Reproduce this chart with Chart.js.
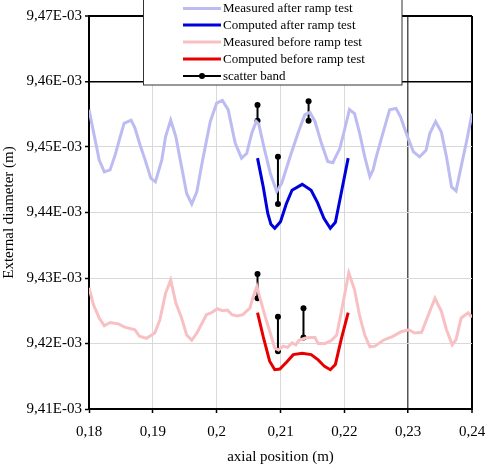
<html>
  <head>
    <script src="https://cdn.jsdelivr.net/npm/chart.js@4.4.0/dist/chart.umd.min.js"></script>
    <style>
      body { margin: 0; background: #fff; }
    </style>
  </head>
  <body>
    <canvas id="diamChart" width="486" height="466"></canvas>
    <script>
      // diameters are stored in units of 1E-03 m, the axis labels add the E-03
      const measAfterX = [0.1800, 0.1816, 0.1824, 0.1833, 0.1841, 0.1849, 0.1855, 0.1866, 0.1872, 0.1880,
        0.1887, 0.1897, 0.1904, 0.1914, 0.1920, 0.1928, 0.1936, 0.1943, 0.1953, 0.1961,
        0.1969, 0.1977, 0.1990, 0.2000, 0.2009, 0.2018, 0.2029, 0.2039, 0.2047, 0.2055,
        0.2062, 0.2066, 0.2074, 0.2084, 0.2094, 0.2102, 0.2115, 0.2128, 0.2138, 0.2146,
        0.2154, 0.2164, 0.2174, 0.2182, 0.2193, 0.2201, 0.2208, 0.2216, 0.2224, 0.2232,
        0.2240, 0.2245, 0.2250, 0.2261, 0.2271, 0.2281, 0.2288, 0.2297, 0.2308, 0.2318,
        0.2328, 0.2334, 0.2343, 0.2352, 0.2360, 0.2368, 0.2375, 0.2383, 0.2392, 0.2400];
      const measAfterY = [9.4557, 9.4480, 9.4462, 9.4465, 9.4488, 9.4516, 9.4536, 9.4541, 9.4529, 9.4503,
        9.4483, 9.4452, 9.4447, 9.4480, 9.4516, 9.4541, 9.4516, 9.4480, 9.4429, 9.4413,
        9.4432, 9.4475, 9.4539, 9.4567, 9.4571, 9.4557, 9.4506, 9.4483, 9.4490, 9.4521,
        9.4539, 9.4535, 9.4500, 9.4460, 9.4432, 9.4445, 9.4485, 9.4523, 9.4549, 9.4553,
        9.4539, 9.4506, 9.4478, 9.4476, 9.4498, 9.4529, 9.4557, 9.4551, 9.4521, 9.4485,
        9.4455, 9.4465, 9.4485, 9.4523, 9.4557, 9.4559, 9.4546, 9.4521, 9.4493, 9.4485,
        9.4495, 9.4521, 9.4539, 9.4523, 9.4485, 9.4439, 9.4433, 9.4470, 9.4511, 9.4551];

      const compAfterX = [0.2064, 0.2073, 0.2080, 0.2085, 0.2091, 0.2100, 0.2109, 0.2118, 0.2134, 0.2148,
        0.2158, 0.2168, 0.2178, 0.2186, 0.2195, 0.2206];
      const compAfterY = [9.4483, 9.4439, 9.4399, 9.4382, 9.4376, 9.4386, 9.4413, 9.4434, 9.4443, 9.4434,
        9.4415, 9.4391, 9.4376, 9.4385, 9.4429, 9.4483];

      const measBeforeX = [0.1800, 0.1807, 0.1816, 0.1824, 0.1833, 0.1846, 0.1856, 0.1872, 0.1879, 0.1890,
        0.1903, 0.1911, 0.1920, 0.1928, 0.1936, 0.1945, 0.1953, 0.1961, 0.1969, 0.1977,
        0.1984, 0.1992, 0.2001, 0.2009, 0.2017, 0.2024, 0.2032, 0.2041, 0.2052, 0.2057,
        0.2063, 0.2068, 0.2076, 0.2084, 0.2091, 0.2097, 0.2104, 0.2111, 0.2118, 0.2124,
        0.2129, 0.2138, 0.2146, 0.2154, 0.2159, 0.2170, 0.2180, 0.2188, 0.2195, 0.2207,
        0.2216, 0.2224, 0.2232, 0.2240, 0.2248, 0.2261, 0.2276, 0.2289, 0.2301, 0.2310,
        0.2321, 0.2331, 0.2342, 0.2352, 0.2360, 0.2369, 0.2375, 0.2383, 0.2394, 0.2400];
      const measBeforeY = [9.4285, 9.4259, 9.4239, 9.4227, 9.4232, 9.4230, 9.4225, 9.4221, 9.4211, 9.4208,
        9.4216, 9.4236, 9.4277, 9.4297, 9.4262, 9.4239, 9.4213, 9.4205, 9.4216, 9.4231,
        9.4244, 9.4247, 9.4253, 9.4250, 9.4251, 9.4244, 9.4242, 9.4244, 9.4254, 9.4271,
        9.4287, 9.4269, 9.4241, 9.4216, 9.4193, 9.4190, 9.4196, 9.4194, 9.4201, 9.4198,
        9.4205, 9.4208, 9.4209, 9.4209, 9.4200, 9.4200, 9.4205, 9.4213, 9.4247, 9.4308,
        9.4282, 9.4242, 9.4213, 9.4195, 9.4196, 9.4205, 9.4211, 9.4218, 9.4221, 9.4216,
        9.4217, 9.4242, 9.4269, 9.4249, 9.4221, 9.4198, 9.4206, 9.4239, 9.4247, 9.4240];

      const compBeforeX = [0.2064, 0.2073, 0.2083, 0.2091, 0.2099, 0.2109, 0.2120, 0.2134, 0.2148, 0.2159,
        0.2169, 0.2178, 0.2186, 0.2195, 0.2206];
      const compBeforeY = [9.4247, 9.4210, 9.4173, 9.4160, 9.4161, 9.4171, 9.4183, 9.4185, 9.4183, 9.4175,
        9.4165, 9.4160, 9.4168, 9.4206, 9.4247];

      const bandX = [0.2064, 0.2096, 0.2144, 0.2064, 0.2096, 0.2136];
      const bandLow = [9.4540, 9.4413, 9.4540, 9.4269, 9.4188, 9.4209];
      const bandHigh = [9.4564, 9.4485, 9.4570, 9.4306, 9.4241, 9.4254];

      const seriesNames = ['Measured after ramp test', 'Computed after ramp test',
        'Measured before ramp test', 'Computed before ramp test', 'scatter band'];
      const seriesColors = ['#bcbcf2', '#0000dc', '#f9c0c4', '#e80000', '#000000'];

      function toPoints(xs, ys) {
        return xs.map(function(x, i) { return { x: x, y: ys[i] }; });
      }

      // one dataset for all bands, gaps between the segments
      let bandPoints = [];
      bandX.forEach(function(x, i) {
        bandPoints.push({ x: x, y: bandLow[i] });
        bandPoints.push({ x: x, y: bandHigh[i] });
        bandPoints.push({ x: x, y: null });
      });

      function near(a, b) { return Math.abs(a - b) < 1e-7; }

      const serif = "'Liberation Serif', 'DejaVu Serif', serif";

      const boxLegend = {
        id: 'boxLegend',
        afterDraw: function(chart) {
          const c = chart.ctx;
          c.save();
          c.fillStyle = '#fff';
          c.fillRect(143.5, -1, 258.5, 86);
          c.strokeStyle = '#333';
          c.lineWidth = 1;
          c.strokeRect(143.5, -1, 258.5, 86);
          c.font = '13px ' + serif;
          c.textBaseline = 'middle';
          const rows = [8.5, 25, 42, 59, 76];
          seriesNames.forEach(function(name, i) {
            const y = rows[i];
            c.strokeStyle = seriesColors[i];
            c.lineWidth = i === 4 ? 2 : 3;
            c.beginPath();
            c.moveTo(183, y);
            c.lineTo(221, y);
            c.stroke();
            if (i === 4) {
              c.fillStyle = '#000';
              c.beginPath();
              c.arc(202, y, 3, 0, Math.PI * 2);
              c.fill();
            }
            c.fillStyle = '#000';
            c.fillText(name, 223, y + 0.5);
          });
          c.restore();
        }
      };

      window.onload = function() {
        const ctx = document.getElementById('diamChart');
        window.myChart = new Chart(ctx, {
          type: 'scatter',
          data: {
            datasets: [
              {
                label: seriesNames[0],
                data: toPoints(measAfterX, measAfterY),
                showLine: true,
                borderColor: seriesColors[0],
                borderWidth: 3,
                pointRadius: 0
              },
              {
                label: seriesNames[1],
                data: toPoints(compAfterX, compAfterY),
                showLine: true,
                borderColor: seriesColors[1],
                borderWidth: 3,
                pointRadius: 0
              },
              {
                label: seriesNames[2],
                data: toPoints(measBeforeX, measBeforeY),
                showLine: true,
                borderColor: seriesColors[2],
                borderWidth: 3,
                pointRadius: 0
              },
              {
                label: seriesNames[3],
                data: toPoints(compBeforeX, compBeforeY),
                showLine: true,
                borderColor: seriesColors[3],
                borderWidth: 3,
                pointRadius: 0
              },
              {
                label: seriesNames[4],
                data: bandPoints,
                showLine: true,
                spanGaps: false,
                borderColor: '#000',
                borderWidth: 2,
                pointRadius: 3,
                pointBackgroundColor: '#000',
                pointBorderColor: '#000',
                pointBorderWidth: 0
              }
            ]
          },
          options: {
            responsive: false,
            animation: false,
            events: [],
            layout: { padding: { top: 16, right: 14, left: 0, bottom: 0 } },
            plugins: {
              legend: { display: false },
              tooltip: { enabled: false }
            },
            scales: {
              x: {
                type: 'linear',
                min: 0.18,
                max: 0.24,
                afterFit: function(scale) {
                  scale.height = 57;
                  scale.paddingLeft = 0;
                  scale.paddingRight = 0;
                },
                ticks: {
                  stepSize: 0.01,
                  color: '#000',
                  padding: 10,
                  maxRotation: 0,
                  font: { family: serif, size: 15 },
                  callback: function(v) {
                    return String(parseFloat(v.toFixed(2))).replace('.', ',');
                  }
                },
                grid: {
                  color: function(c) {
                    if (!c.tick) return '#d9d9d9';
                    if (near(c.tick.value, 0.24)) return '#000';
                    if (near(c.tick.value, 0.23)) return '#555';
                    return '#d9d9d9';
                  },
                  lineWidth: function(c) {
                    if (c.tick && near(c.tick.value, 0.24)) return 2;
                    if (c.tick && near(c.tick.value, 0.23)) return 1.5;
                    return 1;
                  },
                  tickColor: '#000',
                  tickLength: 4,
                  tickWidth: 1.5
                },
                border: { color: '#000', width: 2 },
                title: {
                  display: true,
                  text: 'axial position (m)',
                  color: '#000',
                  font: { family: serif, size: 15 },
                  padding: 0
                }
              },
              y: {
                min: 9.41,
                max: 9.47,
                afterFit: function(scale) {
                  scale.width = 89;
                  scale.paddingTop = 0;
                  scale.paddingBottom = 0;
                },
                ticks: {
                  stepSize: 0.01,
                  color: '#000',
                  padding: 3,
                  font: { family: serif, size: 15 },
                  callback: function(v) {
                    return v.toFixed(2).replace('.', ',') + 'E-03';
                  }
                },
                grid: {
                  color: function(c) {
                    if (!c.tick) return '#d9d9d9';
                    if (near(c.tick.value, 9.47) || near(c.tick.value, 9.46)) return '#000';
                    return '#d9d9d9';
                  },
                  lineWidth: function(c) {
                    if (c.tick && near(c.tick.value, 9.47)) return 2;
                    if (c.tick && near(c.tick.value, 9.46)) return 1.5;
                    return 1;
                  },
                  tickColor: '#000',
                  tickLength: 4,
                  tickWidth: 1.5
                },
                border: { color: '#000', width: 2 },
                title: {
                  display: true,
                  text: 'External diameter (m)',
                  color: '#000',
                  font: { family: serif, size: 15 },
                  padding: 0
                }
              }
            }
          },
          plugins: [boxLegend]
        });
      };
    </script>
  </body>
</html>
